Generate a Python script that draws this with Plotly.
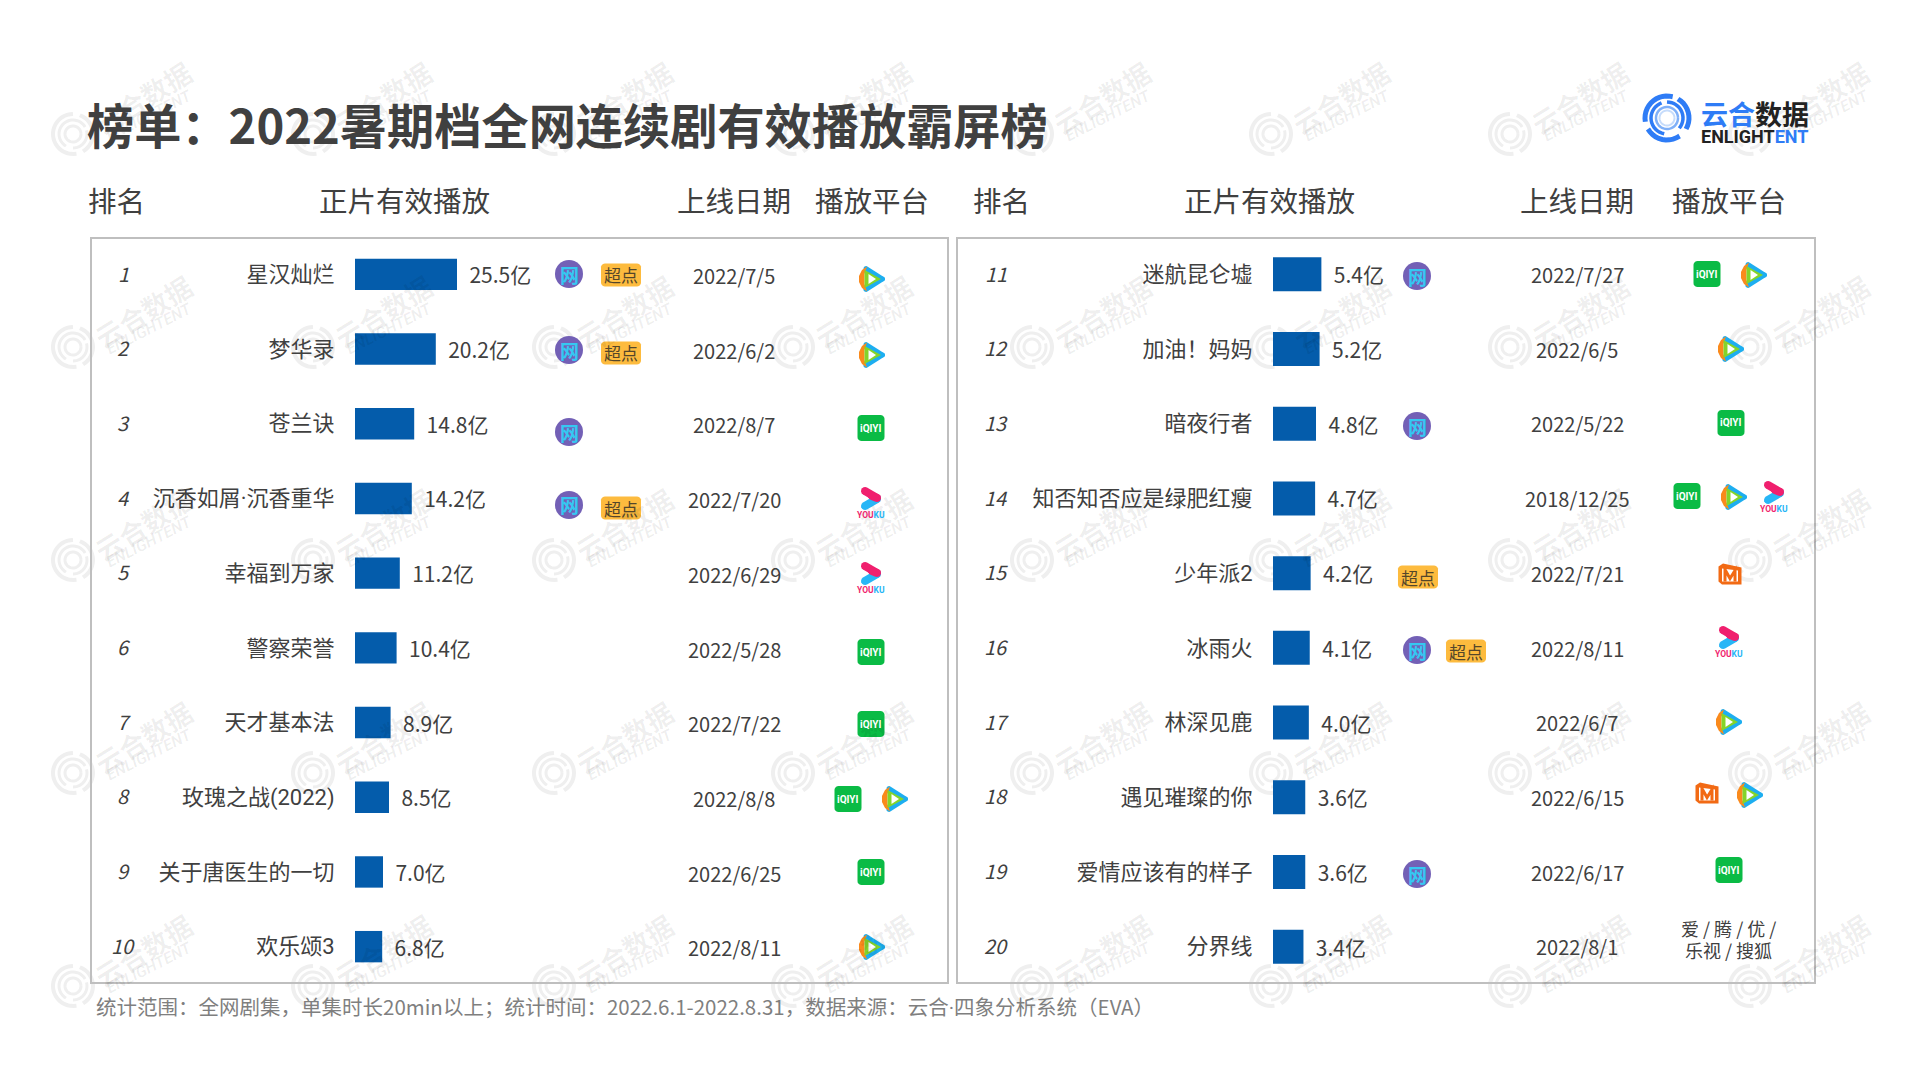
import numpy as np
import plotly.graph_objects as go

# ---------- data ----------
names_left = ["星汉灿烂", "梦华录", "苍兰诀", "沉香如屑·沉香重华", "幸福到万家", "警察荣誉", "天才基本法", "玫瑰之战(2022)", "关于唐医生的一切", "欢乐颂3"]
values_left = [25.5, 20.2, 14.8, 14.2, 11.2, 10.4, 8.9, 8.5, 7.0, 6.8]
dates_left = ["2022/7/5", "2022/6/2", "2022/8/7", "2022/7/20", "2022/6/29", "2022/5/28", "2022/7/22", "2022/8/8", "2022/6/25", "2022/8/11"]
ranks_left = list(range(1, 11))

names_right = ["迷航昆仑墟", "加油！妈妈", "暗夜行者", "知否知否应是绿肥红瘦", "少年派2", "冰雨火", "林深见鹿", "遇见璀璨的你", "爱情应该有的样子", "分界线"]
values_right = [5.4, 5.2, 4.8, 4.7, 4.2, 4.1, 4.0, 3.6, 3.6, 3.4]
dates_right = ["2022/7/27", "2022/6/5", "2022/5/22", "2018/12/25", "2022/7/21", "2022/8/11", "2022/6/7", "2022/6/15", "2022/6/17", "2022/8/1"]
ranks_right = list(range(11, 21))

title_text = "榜单：2022暑期档全网连续剧有效播放霸屏榜"
headers = ["排名", "正片有效播放", "上线日期", "播放平台"]
footnote = '统计范围：全网剧集，单集时长20min以上；统计时间：2022.6.1-2022.8.31，数据来源：云合<span style="font-family:Roboto">·</span>四象分析系统（EVA）'

# ---------- canvas helpers ----------
W, H = 1919, 1079
FONT = "Noto Sans CJK SC"
TXT = "#404040"
BAR = "#045CAB"
shapes, annos = [], []


def X(x):
    return x / W


def Y(y):
    return 1 - y / H


def text(x, y, s, size=20, color=TXT, anchor="center", angle=0, bold=False, family=FONT):
    annos.append(dict(x=X(x), y=Y(y), xref="paper", yref="paper", text=f"<b>{s}</b>" if bold else s,
                      showarrow=False, xanchor=anchor, yanchor="middle", textangle=angle,
                      font=dict(size=size, color=color, family=family)))


def poly(points, fill=None, line=None, lw=0, close=True, layer="above"):
    d = "M " + " L ".join(f"{X(a):.5f},{Y(b):.5f}" for a, b in points) + (" Z" if close else "")
    shapes.append(dict(type="path", xref="paper", yref="paper", path=d, fillcolor=fill or "rgba(0,0,0,0)",
                       line=dict(color=line or "rgba(0,0,0,0)", width=lw), layer=layer))


def arc(cx, cy, r, a0, a1, color, lw, layer="above"):
    t = np.radians(np.linspace(a0, a1, max(6, int(abs(a1 - a0) / 8))))
    poly(list(zip(cx + r * np.cos(t), cy + r * np.sin(t))), line=color, lw=lw, close=False, layer=layer)


def circle(cx, cy, r, fill):
    shapes.append(dict(type="circle", xref="paper", yref="paper", x0=X(cx - r), x1=X(cx + r), y0=Y(cy + r), y1=Y(cy - r),
                       fillcolor=fill, line=dict(width=0), layer="above"))


def rrect(cx, cy, w, h, r, fill):
    pts = []
    for ox, oy, a in [(w / 2 - r, -h / 2 + r, -90), (w / 2 - r, h / 2 - r, 0), (-w / 2 + r, h / 2 - r, 90), (-w / 2 + r, -h / 2 + r, 180)]:
        t = np.radians(np.linspace(a, a + 90, 6))
        pts += list(zip(cx + ox + r * np.cos(t), cy + oy + r * np.sin(t)))
    poly(pts, fill=fill)


def pill(x0, y0, x1, y1, w, fill):
    a = np.arctan2(y1 - y0, x1 - x0)
    t0 = np.linspace(a + np.pi / 2, a + 3 * np.pi / 2, 8)
    t1 = np.linspace(a - np.pi / 2, a + np.pi / 2, 8)
    pts = list(zip(x0 + w / 2 * np.cos(t0), y0 + w / 2 * np.sin(t0))) + list(zip(x1 + w / 2 * np.cos(t1), y1 + w / 2 * np.sin(t1)))
    poly(pts, fill=fill)


# ---------- icons ----------
def wang(cx, cy):
    circle(cx, cy, 14, "#7360B6")
    text(cx, cy, "网", 19, "#35C8F2", bold=True)


def chao(cx, cy):
    rrect(cx, cy, 40, 23, 4, "#FDBB3E")
    text(cx, cy, "超点", 17, "#54462A")


def tencent(cx, cy):
    pill(cx - 6, cy - 10.5, cx + 10.5, cy, 5, "#1DAEF0")
    pill(cx - 6, cy + 10.5, cx + 10.5, cy, 5, "#1DAEF0")
    poly([(cx - 5, cy - 12.5), (cx - 10, cy - 9), (cx - 13, cy - 3), (cx - 13, cy + 3), (cx - 10, cy + 9), (cx - 5, cy + 12.5),
          (cx - 7.5, cy + 5), (cx - 7.5, cy - 5)], fill="#FA8A1C")
    poly([(cx - 7.5, cy - 9), (cx + 9, cy), (cx - 7.5, cy + 9)], fill="#84D42A")
    poly([(cx - 3.5, cy - 5), (cx + 4, cy), (cx - 3.5, cy + 5)], fill="#FFFFFF")


def iqiyi(cx, cy):
    rrect(cx, cy, 27, 26, 4, "#0ABB45")
    text(cx, cy, "iQIYI", 10, "#FFFFFF", bold=True, family="Roboto")


def youku(cx, cy):
    pill(cx - 6, cy - 12, cx + 6, cy - 5, 8, "#F01F6E")
    pill(cx - 6, cy + 3, cx + 6, cy - 4, 8, "#27B6F6")
    pill(cx + 1, cy - 7, cx + 6, cy - 5, 8, "#F01F6E")
    annos.append(dict(x=X(cx), y=Y(cy + 11.5), xref="paper", yref="paper", showarrow=False, xanchor="center", yanchor="middle",
                      text='<b><span style="color:#F01F6E">YOU</span><span style="color:#27B6F6">KU</span></b>',
                      font=dict(size=8.5, family="Roboto")))


def mango(cx, cy):
    cy -= 1.5
    poly([(cx - 11.5, cy - 8), (cx - 7, cy - 11), (cx + 11.5, cy - 7), (cx + 11.5, cy + 10), (cx - 8, cy + 10), (cx - 11.5, cy + 7)], fill="#F26A14")
    poly([(cx - 8, cy - 6), (cx + 8, cy - 4), (cx + 8, cy + 7), (cx - 8, cy + 7)], fill="#FFFFFF")
    poly([(cx - 5, cy + 7), (cx - 5, cy - 5), (cx, cy + 4), (cx + 5, cy - 4), (cx + 5, cy + 7)], line="#F26A14", lw=3, close=False)


# ---------- watermark ----------
for wy in [134, 347, 560, 773, 986]:
    for wx in [73, 313, 554, 793, 1032, 1271, 1510, 1750]:
        c = "#EFEFEF"
        arc(wx, wy, 20, -70, 60, c, 4, "below")
        arc(wx, wy, 20, 80, 270, c, 4, "below")
        arc(wx, wy, 14, 120, 330, c, 3, "below")
        arc(wx, wy, 14, 345, 450, c, 3, "below")
        arc(wx, wy, 8, 0, 359, c, 3, "below")
        text(wx + 70, wy - 36, "云合数据", 27, "rgba(0,0,0,0.065)", angle=-32, bold=True)
        text(wx + 76, wy - 19, "<i>ENLIGHTENT</i>", 16, "rgba(0,0,0,0.065)", angle=-27, bold=True, family="Roboto")

# ---------- title, headers, frames ----------
text(85, 123, title_text, 47.2, TXT, anchor="left", bold=True)
for hx, h in zip([116, 404, 734, 872, 1001, 1269, 1577, 1729], headers * 2):
    text(hx, 200, h, 28.5, TXT)
for x0, x1 in [(91, 948), (957, 1815)]:
    shapes.append(dict(type="rect", xref="paper", yref="paper", x0=X(x0), x1=X(x1), y0=Y(983), y1=Y(238),
                       line=dict(color="#BFBFBF", width=2), fillcolor="rgba(0,0,0,0)", layer="below"))
text(94, 1006, footnote, 20.5, "#7F7F7F", anchor="left")

# ---------- logo ----------
LB = "#2E7CF6"
lx, ly = 1667, 118
arc(lx, ly, 22, -60, 30, LB, 5)
arc(lx, ly, 22, 55, 150, LB, 5)
arc(lx, ly, 22, 170, 285, LB, 5)
arc(lx, ly, 16, 100, 250, LB, 3.5)
arc(lx, ly, 16, 270, 400, LB, 3.5)
arc(lx, ly, 11, 0, 359, "#7FB0F8", 2.5)
arc(lx, ly, 7.5, 0, 359, "#C6DCFB", 2)
annos.append(dict(x=X(1699), y=Y(114), xref="paper", yref="paper", xanchor="left", yanchor="middle", showarrow=False,
                  text='<b><span style="color:#2E7CF6">云合</span><span style="color:#222222">数据</span></b>',
                  font=dict(size=27, family=FONT)))
annos.append(dict(x=X(1699), y=Y(136), xref="paper", yref="paper", xanchor="left", yanchor="middle", showarrow=False,
                  text='<b><span style="color:#222222">ENLIGHT</span><span style="color:#2E7CF6">ENT</span></b>',
                  font=dict(size=18, family="Roboto")))

# ---------- row texts ----------
ROW0, STEP = 274, 74.7
for i, (rl, dl) in enumerate(zip(ranks_left, dates_left)):
    text(124, ROW0 - 1 + STEP * i, f"<i>{rl}</i>", 20)
    text(734, ROW0 + 1.5 + STEP * i, dl, 20)
for i, (rr, dr) in enumerate(zip(ranks_right, dates_right)):
    text(996, ROW0 - 1 + STEP * i, f"<i>{rr}</i>", 20)
    text(1577, ROW0 + 0.5 + STEP * i, dr, 20)

# ---------- platform and tag placement ----------
for icon, ix, iy in [
    (wang, 569, 274), (wang, 569, 350), (wang, 569, 432), (wang, 569, 505),
    (chao, 621, 275), (chao, 621, 353), (chao, 621, 508),
    (tencent, 872, 279), (tencent, 872, 355), (iqiyi, 871, 428), (youku, 871, 503), (youku, 871, 578),
    (iqiyi, 871, 652), (iqiyi, 871, 724), (iqiyi, 848, 799), (tencent, 895, 799), (iqiyi, 871, 872), (tencent, 872, 947),
    (wang, 1417, 276), (wang, 1417, 426), (wang, 1417, 650), (wang, 1417, 874),
    (chao, 1418, 577), (chao, 1466, 651),
    (iqiyi, 1707, 274), (tencent, 1754, 275), (tencent, 1731, 349), (iqiyi, 1731, 423),
    (iqiyi, 1687, 496), (tencent, 1734, 497), (youku, 1774, 497), (mango, 1730, 576), (youku, 1729, 642),
    (tencent, 1729, 722), (mango, 1707, 795), (tencent, 1750, 795), (iqiyi, 1729, 870),
]:
    icon(ix, iy)
text(1728, 928, "爱 / 腾 / 优 /", 18)
text(1728, 950, "乐视 / 搜狐", 18)

# ---------- figure ----------
fig = go.Figure()
fig.add_trace(go.Bar(y=names_left, x=values_left, orientation="h", marker=dict(color=BAR, line=dict(width=0)), width=0.42,
                     texttemplate="\u00a0\u00a0%{x:.1f}亿", textposition="outside", cliponaxis=False,
                     textfont=dict(size=21, color=TXT, family=FONT), hoverinfo="skip", xaxis="x", yaxis="y"))
fig.add_trace(go.Bar(y=names_right, x=values_right, orientation="h", marker=dict(color=BAR, line=dict(width=0)), width=0.455,
                     texttemplate="\u00a0\u00a0%{x:.1f}亿", textposition="outside", cliponaxis=False,
                     textfont=dict(size=21, color=TXT, family=FONT), hoverinfo="skip", xaxis="x2", yaxis="y2"))

x_common = dict(visible=False, range=[0, 100], fixedrange=True)
y_common = dict(type="category", range=[9.5, -0.5], showline=False, showgrid=False, zeroline=False, ticks="outside", ticklen=15,
                tickcolor="rgba(0,0,0,0)", tickfont=dict(size=22, color=TXT, family=f"Roboto, {FONT}"), automargin=False, fixedrange=True)
fig.update_layout(
    width=W, height=H, margin=dict(l=0, r=0, t=0, b=0), paper_bgcolor="white", plot_bgcolor="rgba(0,0,0,0)",
    showlegend=False, bargap=0.5,
    xaxis=dict(x_common, domain=[X(355), X(755)], anchor="y"),
    yaxis=dict(y_common, domain=[Y(984), Y(237)], anchor="x", categoryorder="array", categoryarray=names_left),
    xaxis2=dict(x_common, range=[0, 50], domain=[X(1273), X(1721)], anchor="y2"),
    yaxis2=dict(y_common, domain=[Y(984), Y(237)], anchor="x2", categoryorder="array", categoryarray=names_right),
    shapes=shapes, annotations=annos,
)
fig.write_html("out.html", post_script="document.body.style.margin='0';document.body.style.overflow='hidden';", config={"displayModeBar": False})
